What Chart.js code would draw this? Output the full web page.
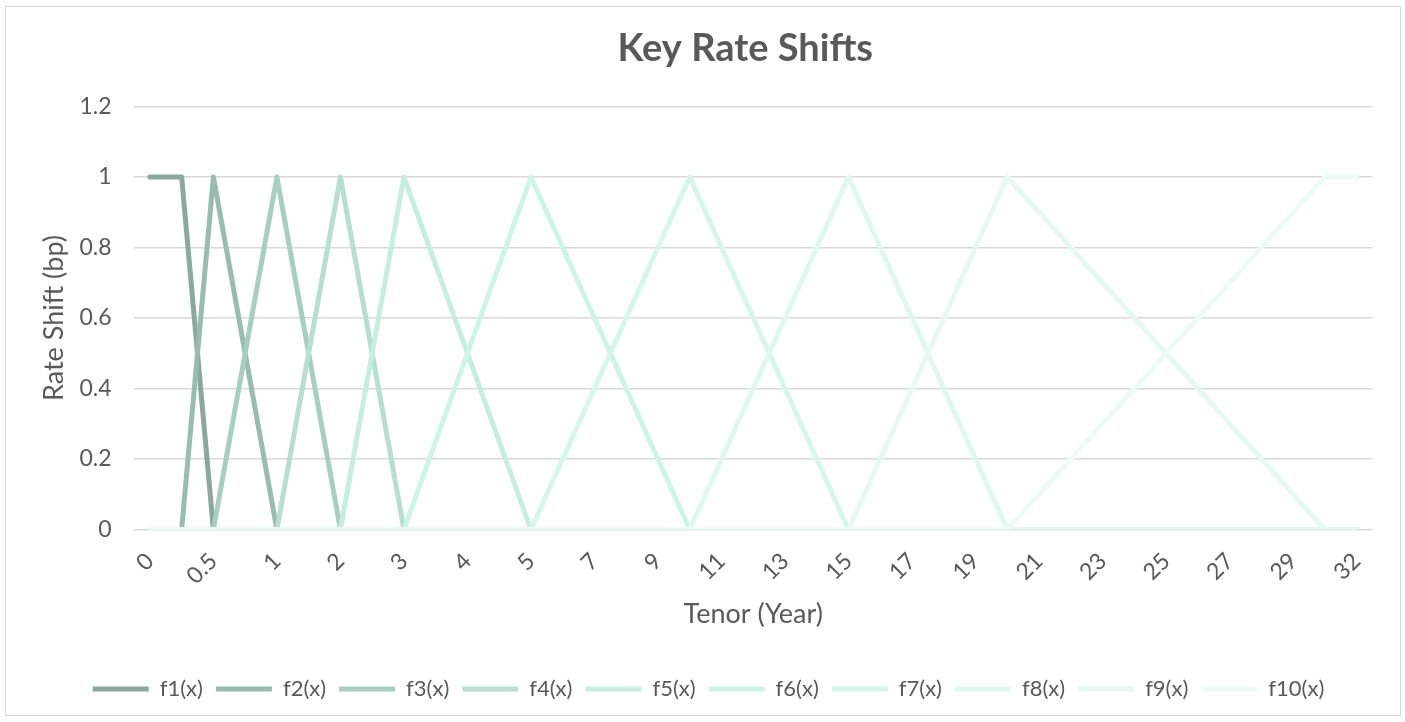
<!DOCTYPE html>
<html>
<head>
<meta charset="utf-8">
<title>Key Rate Shifts</title>
<script src="https://cdn.jsdelivr.net/npm/chart.js@4.4.1/dist/chart.umd.min.js"></script>
<style>
    body { margin: 0; background: #fff; }
    #wrap {
        position: absolute; left: 5px; top: 6px;
        width: 1396px; height: 710px;
        border: 1.5px solid #d9d9d9; box-sizing: border-box;
    }
</style>
</head>
<body>
<div id="wrap"><canvas id="chartCanvas"></canvas></div>
<script>
    // tenor categories (years)
    const tenors = ['0', '0.25', '0.5', '0.75', '1', '1.5', '2', '2.5', '3', '3.5', '4', '4.5', '5',
        '6', '7', '8', '9', '10', '11', '12', '13', '14', '15',
        '16', '17', '18', '19', '20', '21', '22', '23', '24', '25',
        '26', '27', '28', '29', '30', '32'];

    //          0 .25 .5 .75 1 1.5 2 2.5 3 3.5 4 4.5 5 | 6..15 | 16..25 | 26 27 28 29 30 32
    const f1 = [1, 1, 0, 0, 0, 0, 0, 0, 0, 0, 0, 0, 0,
        0, 0, 0, 0, 0, 0, 0, 0, 0, 0,
        0, 0, 0, 0, 0, 0, 0, 0, 0, 0,
        0, 0, 0, 0, 0, 0];
    const f2 = [0, 0, 1, 0.5, 0, 0, 0, 0, 0, 0, 0, 0, 0,
        0, 0, 0, 0, 0, 0, 0, 0, 0, 0,
        0, 0, 0, 0, 0, 0, 0, 0, 0, 0,
        0, 0, 0, 0, 0, 0];
    const f3 = [0, 0, 0, 0.5, 1, 0.5, 0, 0, 0, 0, 0, 0, 0,
        0, 0, 0, 0, 0, 0, 0, 0, 0, 0,
        0, 0, 0, 0, 0, 0, 0, 0, 0, 0,
        0, 0, 0, 0, 0, 0];
    const f4 = [0, 0, 0, 0, 0, 0.5, 1, 0.5, 0, 0, 0, 0, 0,
        0, 0, 0, 0, 0, 0, 0, 0, 0, 0,
        0, 0, 0, 0, 0, 0, 0, 0, 0, 0,
        0, 0, 0, 0, 0, 0];
    const f5 = [0, 0, 0, 0, 0, 0, 0, 0.5, 1, 0.75, 0.5, 0.25, 0,
        0, 0, 0, 0, 0, 0, 0, 0, 0, 0,
        0, 0, 0, 0, 0, 0, 0, 0, 0, 0,
        0, 0, 0, 0, 0, 0];
    const f6 = [0, 0, 0, 0, 0, 0, 0, 0, 0, 0.25, 0.5, 0.75, 1,
        0.8, 0.6, 0.4, 0.2, 0, 0, 0, 0, 0, 0,
        0, 0, 0, 0, 0, 0, 0, 0, 0, 0,
        0, 0, 0, 0, 0, 0];
    const f7 = [0, 0, 0, 0, 0, 0, 0, 0, 0, 0, 0, 0, 0,
        0.2, 0.4, 0.6, 0.8, 1, 0.8, 0.6, 0.4, 0.2, 0,
        0, 0, 0, 0, 0, 0, 0, 0, 0, 0,
        0, 0, 0, 0, 0, 0];
    const f8 = [0, 0, 0, 0, 0, 0, 0, 0, 0, 0, 0, 0, 0,
        0, 0, 0, 0, 0, 0.2, 0.4, 0.6, 0.8, 1,
        0.8, 0.6, 0.4, 0.2, 0, 0, 0, 0, 0, 0,
        0, 0, 0, 0, 0, 0];
    const f9 = [0, 0, 0, 0, 0, 0, 0, 0, 0, 0, 0, 0, 0,
        0, 0, 0, 0, 0, 0, 0, 0, 0, 0,
        0.2, 0.4, 0.6, 0.8, 1, 0.9, 0.8, 0.7, 0.6, 0.5,
        0.4, 0.3, 0.2, 0.1, 0, 0];
    const f10 = [0, 0, 0, 0, 0, 0, 0, 0, 0, 0, 0, 0, 0,
        0, 0, 0, 0, 0, 0, 0, 0, 0, 0,
        0, 0, 0, 0, 0, 0.1, 0.2, 0.3, 0.4, 0.5,
        0.6, 0.7, 0.8, 0.9, 1, 1];

    const seriesNames = ['f1(x)', 'f2(x)', 'f3(x)', 'f4(x)', 'f5(x)', 'f6(x)', 'f7(x)', 'f8(x)', 'f9(x)', 'f10(x)'];
    const seriesData = [f1, f2, f3, f4, f5, f6, f7, f8, f9, f10];
    const colors = ['#8aa89b', '#98bcad', '#a7cfbf', '#b6dfcf', '#c6eedf',
        '#cdf4e4', '#d6f6e9', '#dff8ef', '#e6f8f2', '#edfaf6'];

    const textColor = '#595959';
    const fontFamily = 'Lato, "Open Sans", sans-serif';

    // title drawn centred over the plot area
    const titlePlugin = {
        id: 'plotTitle',
        afterDraw(chart) {
            const c = chart.ctx;
            const area = chart.chartArea;
            c.save();
            c.font = 'bold 38px ' + fontFamily;
            c.fillStyle = textColor;
            c.textAlign = 'center';
            c.textBaseline = 'middle';
            c.fillText('Key Rate Shifts', (area.left + area.right) / 2 - 8, 42);
            c.restore();
        }
    };

    const datasets = seriesData.map(function (d, i) {
        return {
            label: seriesNames[i],
            data: d,
            borderColor: colors[i],
            backgroundColor: colors[i],
            borderWidth: 5,
            borderCapStyle: 'round',
            borderJoinStyle: 'round',
            pointRadius: 0,
            pointHoverRadius: 0,
            tension: 0,
            fill: false,
            order: seriesData.length - 1 - i   // later series drawn on top
        };
    });

    const ctx = document.getElementById('chartCanvas');

    const chart = new Chart(ctx, {
        type: 'line',
        data: {
            labels: tenors,
            datasets: datasets
        },
        plugins: [titlePlugin],
        options: {
            responsive: true,
            maintainAspectRatio: false,
            animation: false,
            events: [],
            layout: {
                padding: { top: 99.5, right: 0, bottom: 5, left: 11 }
            },
            plugins: {
                title: { display: false },
                tooltip: { enabled: false },
                legend: {
                    display: true,
                    position: 'bottom',
                    labels: {
                        usePointStyle: true,
                        pointStyle: 'line',
                        pointStyleWidth: 56,
                        padding: 13,
                        color: textColor,
                        font: { family: fontFamily, size: 22 },
                        sort: function (a, b) { return a.datasetIndex - b.datasetIndex; }
                    }
                }
            },
            scales: {
                x: {
                    offset: true,
                    grid: { display: false, drawTicks: false },
                    border: { display: false },
                    ticks: {
                        autoSkip: false,
                        minRotation: 45,
                        maxRotation: 45,
                        padding: 18,
                        color: textColor,
                        font: { family: fontFamily, size: 23 },
                        callback: function (val, index) {
                            return index % 2 === 0 ? this.getLabelForValue(val) : '';
                        }
                    },
                    title: {
                        display: true,
                        text: 'Tenor (Year)',
                        color: textColor,
                        font: { family: fontFamily, size: 27 },
                        padding: { top: 0, bottom: 34.3 }
                    },
                    afterFit: function (scale) {
                        scale.height = 135.5;
                        scale.paddingLeft = 0;
                        scale.paddingRight = 27.5;
                    }
                },
                y: {
                    min: 0,
                    max: 1.2,
                    grid: { color: '#d9d9d9', lineWidth: 1.5, drawTicks: false },
                    border: { display: false },
                    ticks: {
                        stepSize: 0.2,
                        padding: 22.5,
                        color: textColor,
                        font: { family: fontFamily, size: 23 },
                        callback: function (v) { return String(Math.round(v * 10) / 10); }
                    },
                    title: {
                        display: true,
                        text: 'Rate Shift (bp)',
                        color: textColor,
                        font: { family: fontFamily, size: 27 },
                        padding: { top: 21.3, bottom: 0 }
                    },
                    afterFit: function (scale) { scale.width = 117; }
                }
            }
        }
    });
</script>
</body>
</html>
